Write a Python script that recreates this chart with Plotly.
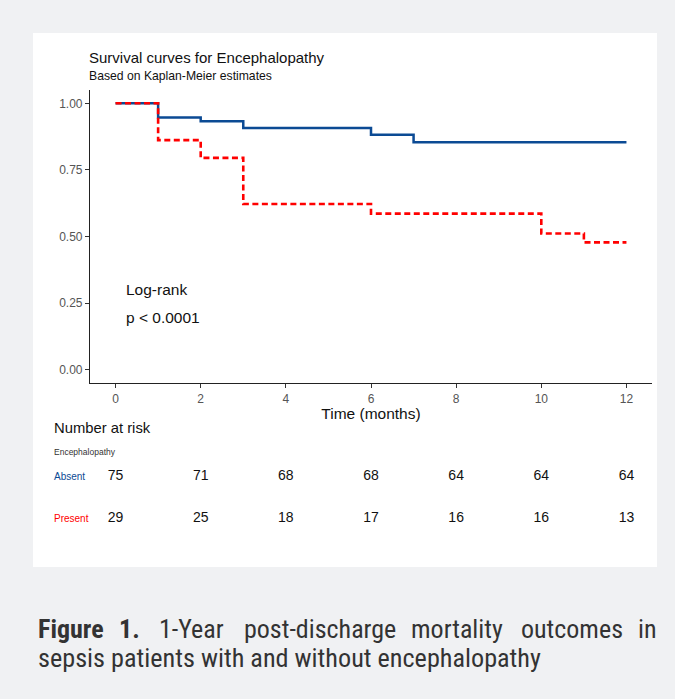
import plotly.graph_objects as go

# ---- data ----
absent_time = [0, 1, 2, 3, 6, 7, 12]
absent_surv = [1.0, 0.947, 0.933, 0.907, 0.882, 0.854, 0.854]
present_time = [0, 1, 2, 3, 6, 10, 11, 12]
present_surv = [1.0, 0.862, 0.795, 0.622, 0.586, 0.511, 0.478, 0.478]

risk_times = [0, 2, 4, 6, 8, 10, 12]
risk_absent = [75, 71, 68, 68, 64, 64, 64]
risk_present = [29, 25, 18, 17, 16, 16, 13]

x_ticks = [0, 2, 4, 6, 8, 10, 12]
y_ticks = [0.0, 0.25, 0.5, 0.75, 1.0]
y_ticklabels = ["0.00", "0.25", "0.50", "0.75", "1.00"]

BLUE = "#0b4a94"
RED = "#ff0000"
W, H = 675, 699
ML, MR, MT, MB = 90, 23, 90, 159
PW, PH = W - ML - MR, H - MT - MB
FONT = "Liberation Sans, Arial, sans-serif"


def px2x(px):
    return (px - ML) / PW


def py2y(py):
    return (H - MB - py) / PH


fig = go.Figure()
fig.add_trace(go.Scatter(x=absent_time, y=absent_surv, mode="lines",
                         line=dict(color=BLUE, width=2.5, shape="hv"),
                         showlegend=False, xaxis="x", yaxis="y"))
fig.add_trace(go.Scatter(x=present_time, y=present_surv, mode="lines",
                         line=dict(color=RED, width=2.6, shape="hv", dash="6px,3.5px"),
                         showlegend=False, xaxis="x", yaxis="y"))

# risk table
fig.add_trace(go.Scatter(x=risk_times, y=[2] * len(risk_times), mode="text",
                         text=[str(v) for v in risk_absent],
                         textfont=dict(size=14, color="#111111", family=FONT),
                         showlegend=False, xaxis="x2", yaxis="y2", hoverinfo="skip"))
fig.add_trace(go.Scatter(x=risk_times, y=[1] * len(risk_times), mode="text",
                         text=[str(v) for v in risk_present],
                         textfont=dict(size=14, color="#111111", family=FONT),
                         showlegend=False, xaxis="x2", yaxis="y2", hoverinfo="skip"))

main_bottom = py2y(383)
fig.update_layout(
    width=W, height=H,
    margin=dict(l=ML, r=MR, t=MT, b=MB),
    paper_bgcolor="#f0f1f3",
    plot_bgcolor="white",
    font=dict(family=FONT, color="#222222"),
    xaxis=dict(domain=[0, 1], range=[-0.6, 12.6], tickvals=x_ticks,
               showgrid=False, zeroline=False, showline=True, linecolor="#222222",
               linewidth=1.2, ticks="outside", ticklen=4, tickcolor="#333333",
               tickfont=dict(size=12, color="#555555"),
               title=dict(text="Time (months)", font=dict(size=15.5, color="#111111"), standoff=0),
               anchor="y"),
    yaxis=dict(domain=[main_bottom, 1], range=[-0.05, 1.05], tickvals=y_ticks,
               ticktext=y_ticklabels, showgrid=False, zeroline=False, showline=True,
               linecolor="#222222", linewidth=1.2, ticks="outside", ticklen=4,
               tickcolor="#333333", tickfont=dict(size=12, color="#555555"),
               anchor="x"),
    xaxis2=dict(domain=[0, 1], range=[-0.6, 12.6], visible=False, anchor="y2"),
    yaxis2=dict(domain=[0, py2y(455)], range=[0.5, 2.5], visible=False, anchor="x2"),
    shapes=[dict(type="rect", xref="paper", yref="paper",
                 x0=px2x(33), x1=px2x(657), y0=py2y(567), y1=py2y(33),
                 fillcolor="white", line=dict(width=0), layer="below")],
)

ann = []
ann.append(dict(text="Survival curves for Encephalopathy", x=px2x(87), y=py2y(58),
                xref="paper", yref="paper", xanchor="left", yanchor="middle",
                showarrow=False, font=dict(size=15, color="#111111")))
ann.append(dict(text="Based on Kaplan-Meier estimates", x=px2x(87), y=py2y(76),
                xref="paper", yref="paper", xanchor="left", yanchor="middle",
                showarrow=False, font=dict(size=12.2, color="#111111")))
ann.append(dict(text="Log-rank", x=0.2, y=0.30, xref="x", yref="y", xanchor="left",
                yanchor="middle", showarrow=False, font=dict(size=15.5, color="#111111")))
ann.append(dict(text="p < 0.0001", x=0.2, y=0.195, xref="x", yref="y", xanchor="left",
                yanchor="middle", showarrow=False, font=dict(size=15.5, color="#111111")))
ann.append(dict(text="Number at risk", x=px2x(52), y=py2y(428), xref="paper", yref="paper",
                xanchor="left", yanchor="middle", showarrow=False,
                font=dict(size=14.8, color="#111111")))
ann.append(dict(text="Encephalopathy", x=px2x(52), y=py2y(452), xref="paper", yref="paper",
                xanchor="left", yanchor="middle", showarrow=False,
                font=dict(size=8.5, color="#333333")))
ann.append(dict(text="Absent", x=px2x(52), y=2, xref="paper", yref="y2",
                xanchor="left", yanchor="middle", showarrow=False,
                font=dict(size=10, color=BLUE)))
ann.append(dict(text="Present", x=px2x(52), y=1, xref="paper", yref="y2",
                xanchor="left", yanchor="middle", showarrow=False,
                font=dict(size=10, color=RED)))

# caption (justified first line)
CAP_FONT = "Liberation Sans Narrow, Roboto Condensed, Arial Narrow, Noto Sans, sans-serif"
line1 = [("<b>Figure</b>", 36), ("<b>1.</b>", 117), ("1-Year", 157), ("post-discharge", 242),
         ("mortality", 409), ("outcomes", 519), ("in", 636)]
for txt, px in line1:
    ann.append(dict(text=txt, x=px2x(px), y=py2y(629), xref="paper", yref="paper",
                    xanchor="left", yanchor="middle", showarrow=False,
                    font=dict(size=26, color="#333333", family=CAP_FONT)))
ann.append(dict(text="sepsis patients with and without encephalopathy", x=px2x(36), y=py2y(658),
                xref="paper", yref="paper", xanchor="left", yanchor="middle", showarrow=False,
                font=dict(size=26.2, color="#333333", family=CAP_FONT)))
fig.update_layout(annotations=ann)

fig.write_html("out.html", config={"displayModeBar": False},
               post_script="document.body.style.margin='0';")
